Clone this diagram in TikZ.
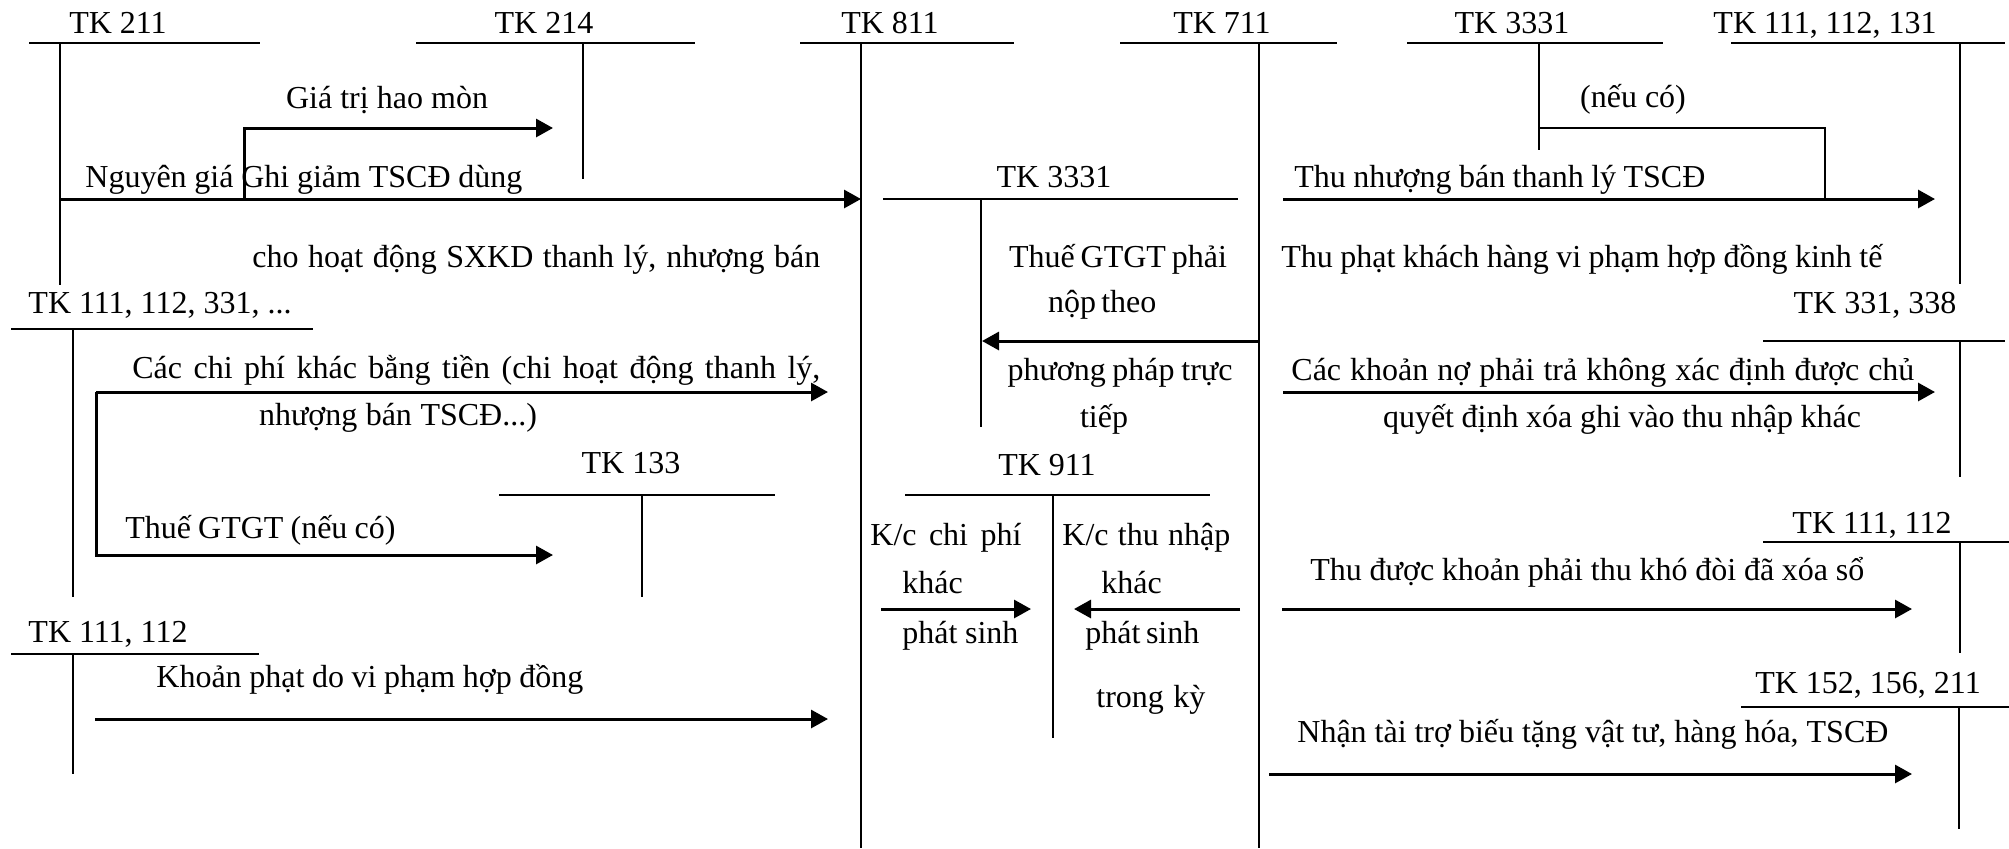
\documentclass[tikz,border=0pt]{standalone}
\usepackage{fontspec}
\setmainfont{Liberation Serif}
\usetikzlibrary{arrows.meta}
% T-account: #1 name, #2 title, #3 title x, #4 title baseline y,
% #5 left x, #6 right x, #7 bar y, #8 stem x, #9 stem bottom y
\newcommand\TAcct[9]{%
  \coordinate (#1-l) at (#5,#7);
  \coordinate (#1-r) at (#6,#7);
  \coordinate (#1-top) at (#8,#7);
  \coordinate (#1-bot) at (#8,#9);
  \node[lbl] (#1-title) at (#3,#4) {#2};
  \draw[thinln] (#1-l) -- (#1-r);
  \draw[thinln] (#1-top) -- (#1-bot);
}
% justified line of a given width
\newcommand\jline[2]{\makebox[#1][s]{#2}}
\begin{document}
\begin{tikzpicture}[x=0.5pt,y=-0.5pt,
  thinln/.style={line width=1pt},
  flow/.style={line width=1.5pt,-{Triangle[length=8.5pt,width=9pt]}},
  lbl/.style={inner sep=0pt,anchor=base,font=\fontsize{16pt}{19pt}\selectfont},
  lblw/.style={lbl,anchor=base west}]
\useasboundingbox (0,0) rectangle (2009,848);

% ---- T-accounts ----
\TAcct{t211}{TK 211}{118}{33}{29}{260}{43}{60}{285}
\TAcct{t214}{TK 214}{544}{33}{416}{695}{43}{583}{179}
\TAcct{t811}{TK 811}{890}{33}{800}{1014}{43}{861}{848}
\TAcct{t711}{TK 711}{1222}{33}{1120}{1337}{43}{1259}{848}
\TAcct{t3331a}{TK 3331}{1512}{33}{1407}{1663}{43}{1539}{150}
\TAcct{t111a}{TK 111, 112, 131}{1825}{33}{1731}{2005}{43}{1960}{284}
\TAcct{t3331b}{TK 3331}{1054}{187}{883}{1238}{199}{981}{427}
\TAcct{t111b}{TK 111, 112, 331, ...}{160}{313}{11}{313}{329}{73}{597}
\TAcct{t331}{TK 331, 338}{1875}{313}{1763}{2005}{341}{1960}{477}
\TAcct{t133}{TK 133}{631}{473}{499}{775}{495}{642}{597}
\TAcct{t911}{TK 911}{1047}{475}{905}{1210}{495}{1053}{738}
\TAcct{t111c}{TK 111, 112}{1872}{533}{1763}{2009}{542}{1960}{653}
\TAcct{t111d}{TK 111, 112}{108}{642}{11}{259}{654}{73}{774}
\TAcct{t152}{TK 152, 156, 211}{1868}{693}{1741}{2009}{707}{1959}{829}

% ---- connector end points ----
\coordinate (m-s) at (60,199);   \coordinate (m-e) at (861,199);
\coordinate (hm-s) at (244,199); \coordinate (hm-e) at (553,128);
\coordinate (vat-s) at (1539,128); \coordinate (vat-e) at (1825,199);
\coordinate (tn-s) at (1283,199); \coordinate (tn-e) at (1935,199);
\coordinate (gt-s) at (1259,341); \coordinate (gt-e) at (982,341);
\coordinate (no-s) at (1283,392); \coordinate (no-e) at (1935,392);
\coordinate (cp-s) at (96,392);  \coordinate (cp-e) at (828,392);
\coordinate (th-e) at (553,555);
\coordinate (kc1-s) at (881,609); \coordinate (kc1-e) at (1031,609);
\coordinate (kc2-s) at (1240,609); \coordinate (kc2-e) at (1074,609);
\coordinate (kd-s) at (1282,609); \coordinate (kd-e) at (1912,609);
\coordinate (kp-s) at (95,719);  \coordinate (kp-e) at (828,719);
\coordinate (tt-s) at (1269,774); \coordinate (tt-e) at (1912,774);

% ---- connectors ----
\draw[flow] (m-s) -- (m-e);
\draw[flow] (hm-s) |- (hm-e);
\draw[thinln] (vat-s) -| (vat-e);
\draw[flow] (tn-s) -- (tn-e);
\draw[flow] (gt-s) -- (gt-e);
\draw[flow] (no-s) -- (no-e);
\draw[flow] (cp-s) -- (cp-e);
\draw[flow] (cp-s) |- (th-e);
\draw[flow] (kc1-s) -- (kc1-e);
\draw[flow] (kc2-s) -- (kc2-e);
\draw[flow] (kd-s) -- (kd-e);
\draw[flow] (kp-s) -- (kp-e);
\draw[flow] (tt-s) -- (tt-e);

% ---- texts ----
\node[lbl]  (x-hm)  at (387,108) {\jline{101pt}{Giá trị hao mòn}};
\node[lblw] (x-ng)  at (85,187)  {\jline{218.5pt}{Nguyên giá Ghi giảm TSCĐ dùng}};
\node[lblw] (x-cho) at (252,267) {\jline{284pt}{cho hoạt động SXKD thanh lý, nhượng bán}};
\node[lbl]  (x-nc)  at (1633,107) {(nếu có)};
\node[lblw] (x-tn)  at (1294,187) {\jline{205.5pt}{Thu nhượng bán thanh lý TSCĐ}};
\node[lblw] (x-tp)  at (1281,267) {\jline{300.5pt}{Thu phạt khách hàng vi phạm hợp đồng kinh tế}};
\node[lbl]  (x-g1)  at (1118,267) {\jline{109pt}{Thuế GTGT phải}};
\node[lbl]  (x-g2)  at (1102,312) {\jline{54pt}{nộp theo}};
\node[lbl]  (x-g3)  at (1120,380) {\jline{112.5pt}{phương pháp trực}};
\node[lbl]  (x-g4)  at (1104,427) {tiếp};
\node[lblw] (x-cp1) at (132,378) {\jline{344pt}{Các chi phí khác bằng tiền (chi hoạt động thanh lý,}};
\node[lbl]  (x-cp2) at (398,425) {\jline{139pt}{nhượng bán TSCĐ...)}};
\node[lblw] (x-th)  at (125,538) {\jline{135pt}{Thuế GTGT (nếu có)}};
\node[lblw] (x-no1) at (1291,380) {\jline{311.5pt}{Các khoản nợ phải trả không xác định được chủ}};
\node[lbl]  (x-no2) at (1622,427) {\jline{239pt}{quyết định xóa ghi vào thu nhập khác}};
\node[lblw] (x-k1)  at (870,545) {\jline{75.5pt}{K/c chi phí}};
\node[lblw] (x-k2)  at (1062,545) {\jline{84pt}{K/c thu nhập}};
\node[lblw] (x-k3)  at (902,593) {khác};
\node[lblw] (x-k4)  at (902,643) {\jline{58pt}{phát sinh}};
\node[lblw] (x-k5)  at (1101,593) {khác};
\node[lblw] (x-k6)  at (1085,643) {\jline{57pt}{phát sinh}};
\node[lblw] (x-k7)  at (1096,707) {\jline{54.5pt}{trong kỳ}};
\node[lblw] (x-kd)  at (1310,580) {\jline{277pt}{Thu được khoản phải thu khó đòi đã xóa sổ}};
\node[lblw] (x-kp)  at (156,687) {\jline{213.5pt}{Khoản phạt do vi phạm hợp đồng}};
\node[lblw] (x-tt)  at (1297,742) {\jline{295.5pt}{Nhận tài trợ biếu tặng vật tư, hàng hóa, TSCĐ}};
\end{tikzpicture}
\end{document}
